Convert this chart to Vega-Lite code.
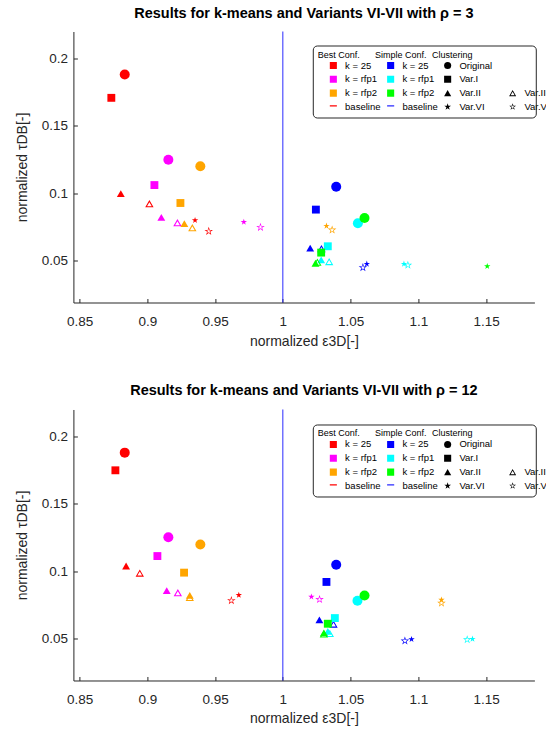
{
  "$schema": "https://vega.github.io/schema/vega-lite/v6.json",
  "autosize": {"type": "pad"},
  "padding": {"left": 15.4, "top": 5.5, "right": 7.7, "bottom": 5},
  "bounds": "flush",
  "spacing": 107,
  "datasets": {
    "baseline": [{"eps": 1, "conf": "baseline"}],
    "rho3": [
      {"setup": "Best", "k": "k = 25", "variant": "Original", "eps": 0.8833, "tau": 0.1881},
      {"setup": "Best", "k": "k = 25", "variant": "Var.I", "eps": 0.8734, "tau": 0.1708},
      {"setup": "Best", "k": "k = 25", "variant": "Var.II", "eps": 0.8804, "tau": 0.0997},
      {"setup": "Best", "k": "k = 25", "variant": "Var.III", "eps": 0.9015, "tau": 0.0923},
      {"setup": "Best", "k": "k = 25", "variant": "Var.VI", "eps": 0.9352, "tau": 0.0800},
      {"setup": "Best", "k": "k = 25", "variant": "Var.VII", "eps": 0.9453, "tau": 0.0718},
      {"setup": "Best", "k": "k = rfp1", "variant": "Original", "eps": 0.9155, "tau": 0.1249},
      {"setup": "Best", "k": "k = rfp1", "variant": "Var.I", "eps": 0.9052, "tau": 0.1061},
      {"setup": "Best", "k": "k = rfp1", "variant": "Var.II", "eps": 0.9103, "tau": 0.0822},
      {"setup": "Best", "k": "k = rfp1", "variant": "Var.III", "eps": 0.9222, "tau": 0.0782},
      {"setup": "Best", "k": "k = rfp1", "variant": "Var.VI", "eps": 0.9712, "tau": 0.0787},
      {"setup": "Best", "k": "k = rfp1", "variant": "Var.VII", "eps": 0.9835, "tau": 0.0748},
      {"setup": "Best", "k": "k = rfp2", "variant": "Original", "eps": 0.9391, "tau": 0.1200},
      {"setup": "Best", "k": "k = rfp2", "variant": "Var.I", "eps": 0.9244, "tau": 0.0928},
      {"setup": "Best", "k": "k = rfp2", "variant": "Var.II", "eps": 0.9273, "tau": 0.0775},
      {"setup": "Best", "k": "k = rfp2", "variant": "Var.III", "eps": 0.9332, "tau": 0.0745},
      {"setup": "Best", "k": "k = rfp2", "variant": "Var.VI", "eps": 1.0322, "tau": 0.0758},
      {"setup": "Best", "k": "k = rfp2", "variant": "Var.VII", "eps": 1.0364, "tau": 0.0728},
      {"setup": "Simple", "k": "k = 25", "variant": "Original", "eps": 1.0394, "tau": 0.1049},
      {"setup": "Simple", "k": "k = 25", "variant": "Var.I", "eps": 1.0244, "tau": 0.0879},
      {"setup": "Simple", "k": "k = 25", "variant": "Var.II", "eps": 1.0202, "tau": 0.0593},
      {"setup": "Simple", "k": "k = 25", "variant": "Var.III", "eps": 1.0285, "tau": 0.0590},
      {"setup": "Simple", "k": "k = 25", "variant": "Var.VI", "eps": 1.0620, "tau": 0.0476},
      {"setup": "Simple", "k": "k = 25", "variant": "Var.VII", "eps": 1.0591, "tau": 0.0449},
      {"setup": "Simple", "k": "k = rfp1", "variant": "Original", "eps": 1.0554, "tau": 0.0778},
      {"setup": "Simple", "k": "k = rfp1", "variant": "Var.I", "eps": 1.0332, "tau": 0.0607},
      {"setup": "Simple", "k": "k = rfp1", "variant": "Var.II", "eps": 1.0283, "tau": 0.0506},
      {"setup": "Simple", "k": "k = rfp1", "variant": "Var.III", "eps": 1.0342, "tau": 0.0494},
      {"setup": "Simple", "k": "k = rfp1", "variant": "Var.VI", "eps": 1.0894, "tau": 0.0476},
      {"setup": "Simple", "k": "k = rfp1", "variant": "Var.VII", "eps": 1.0923, "tau": 0.0467},
      {"setup": "Simple", "k": "k = rfp2", "variant": "Original", "eps": 1.0603, "tau": 0.0817},
      {"setup": "Simple", "k": "k = rfp2", "variant": "Var.I", "eps": 1.0283, "tau": 0.0560},
      {"setup": "Simple", "k": "k = rfp2", "variant": "Var.II", "eps": 1.0241, "tau": 0.0481},
      {"setup": "Simple", "k": "k = rfp2", "variant": "Var.III", "eps": 1.0255, "tau": 0.0490},
      {"setup": "Simple", "k": "k = rfp2", "variant": "Var.VI", "eps": 1.1509, "tau": 0.0459}
    ],
    "rho12": [
      {"setup": "Best", "k": "k = 25", "variant": "Original", "eps": 0.8833, "tau": 0.1880},
      {"setup": "Best", "k": "k = 25", "variant": "Var.I", "eps": 0.8764, "tau": 0.1749},
      {"setup": "Best", "k": "k = 25", "variant": "Var.II", "eps": 0.8843, "tau": 0.1039},
      {"setup": "Best", "k": "k = 25", "variant": "Var.III", "eps": 0.8944, "tau": 0.0987},
      {"setup": "Best", "k": "k = 25", "variant": "Var.VI", "eps": 0.9675, "tau": 0.0823},
      {"setup": "Best", "k": "k = 25", "variant": "Var.VII", "eps": 0.9620, "tau": 0.0783},
      {"setup": "Best", "k": "k = rfp1", "variant": "Original", "eps": 0.9155, "tau": 0.1253},
      {"setup": "Best", "k": "k = rfp1", "variant": "Var.I", "eps": 0.9074, "tau": 0.1113},
      {"setup": "Best", "k": "k = rfp1", "variant": "Var.II", "eps": 0.9143, "tau": 0.0857},
      {"setup": "Best", "k": "k = rfp1", "variant": "Var.III", "eps": 0.9225, "tau": 0.0841},
      {"setup": "Best", "k": "k = rfp1", "variant": "Var.VI", "eps": 1.0211, "tau": 0.0811},
      {"setup": "Best", "k": "k = rfp1", "variant": "Var.VII", "eps": 1.0271, "tau": 0.0791},
      {"setup": "Best", "k": "k = rfp2", "variant": "Original", "eps": 0.9391, "tau": 0.1199},
      {"setup": "Best", "k": "k = rfp2", "variant": "Var.I", "eps": 0.9271, "tau": 0.0990},
      {"setup": "Best", "k": "k = rfp2", "variant": "Var.II", "eps": 0.9313, "tau": 0.0822},
      {"setup": "Best", "k": "k = rfp2", "variant": "Var.III", "eps": 0.9313, "tau": 0.0806},
      {"setup": "Best", "k": "k = rfp2", "variant": "Var.VI", "eps": 1.1171, "tau": 0.0788},
      {"setup": "Best", "k": "k = rfp2", "variant": "Var.VII", "eps": 1.1171, "tau": 0.0764},
      {"setup": "Simple", "k": "k = 25", "variant": "Original", "eps": 1.0394, "tau": 0.1049},
      {"setup": "Simple", "k": "k = 25", "variant": "Var.I", "eps": 1.0322, "tau": 0.0921},
      {"setup": "Simple", "k": "k = 25", "variant": "Var.II", "eps": 1.0270, "tau": 0.0640},
      {"setup": "Simple", "k": "k = 25", "variant": "Var.III", "eps": 1.0374, "tau": 0.0609},
      {"setup": "Simple", "k": "k = 25", "variant": "Var.VI", "eps": 1.0950, "tau": 0.0496},
      {"setup": "Simple", "k": "k = 25", "variant": "Var.VII", "eps": 1.0901, "tau": 0.0484},
      {"setup": "Simple", "k": "k = rfp1", "variant": "Original", "eps": 1.0551, "tau": 0.0781},
      {"setup": "Simple", "k": "k = rfp1", "variant": "Var.I", "eps": 1.0384, "tau": 0.0653},
      {"setup": "Simple", "k": "k = rfp1", "variant": "Var.II", "eps": 1.0332, "tau": 0.0555},
      {"setup": "Simple", "k": "k = rfp1", "variant": "Var.III", "eps": 1.0347, "tau": 0.0540},
      {"setup": "Simple", "k": "k = rfp1", "variant": "Var.VI", "eps": 1.1400, "tau": 0.0498},
      {"setup": "Simple", "k": "k = rfp1", "variant": "Var.VII", "eps": 1.1361, "tau": 0.0493},
      {"setup": "Simple", "k": "k = rfp2", "variant": "Original", "eps": 1.0603, "tau": 0.0820},
      {"setup": "Simple", "k": "k = rfp2", "variant": "Var.I", "eps": 1.0332, "tau": 0.0611},
      {"setup": "Simple", "k": "k = rfp2", "variant": "Var.II", "eps": 1.0303, "tau": 0.0543},
      {"setup": "Simple", "k": "k = rfp2", "variant": "Var.III", "eps": 1.0303, "tau": 0.0535}
    ]
  },
  "vconcat": [
    {
      "width": 461,
      "height": 271,
      "title": {"text": "Results for k-means and Variants VI-VII with ρ = 3"},
      "data": {"name": "rho3"},
      "layer": [
        {
          "data": {"name": "baseline"},
          "mark": {"type": "rule", "strokeWidth": 1, "opacity": 0},
          "encoding": {
            "x": {"field": "eps", "type": "quantitative", "scale": {"domain": [0.8454, 1.1857], "nice": false, "zero": false}, "axis": {"values": [0.85, 0.9, 0.95, 1, 1.05, 1.1, 1.15], "format": "~g", "title": "normalized ε3D[-]"}},
            "color": {"field": "conf", "type": "nominal", "scale": {"domain": ["baseline"], "range": ["#ff0000"]}, "legend": {"title": null, "orient": "none", "legendX": 239.4, "legendY": 64.3, "symbolType": "stroke", "symbolStrokeWidth": 1.2, "symbolOpacity": 1, "labelExpr": "''"}}
          }
        },
        {
          "data": {"name": "baseline"},
          "mark": {"type": "rule", "strokeWidth": 1},
          "encoding": {
            "x": {"field": "eps", "type": "quantitative", "scale": {"domain": [0.8454, 1.1857], "nice": false, "zero": false}, "axis": {"values": [0.85, 0.9, 0.95, 1, 1.05, 1.1, 1.15], "format": "~g", "title": "normalized ε3D[-]"}},
            "color": {"field": "conf", "type": "nominal", "scale": {"domain": ["baseline"], "range": ["#2a2aff"]}, "legend": {"title": null, "orient": "none", "legendX": 296.7, "legendY": 64.3, "symbolType": "stroke", "symbolStrokeWidth": 1.2, "labelExpr": "''"}}
          }
        },
        {
          "transform": [{"filter": "datum.setup === 'Best'"}],
          "mark": {"type": "point", "filled": true, "opacity": 1, "strokeWidth": 0},
          "encoding": {
            "x": {"field": "eps", "type": "quantitative", "scale": {"domain": [0.8454, 1.1857], "nice": false, "zero": false}, "axis": {"values": [0.85, 0.9, 0.95, 1, 1.05, 1.1, 1.15], "format": "~g", "title": "normalized ε3D[-]"}},
            "y": {"field": "tau", "type": "quantitative", "scale": {"domain": [0.019, 0.22], "nice": false, "zero": false}, "axis": {"values": [0.05, 0.1, 0.15, 0.2], "format": "~g", "title": "normalized τDB[-]"}},
            "color": {"field": "k", "type": "nominal", "scale": {"domain": ["k = 25", "k = rfp1", "k = rfp2", "baseline"], "range": ["#ff0000", "#ff00ff", "#ffa500", "transparent"]},
              "legend": {"title": "Best Conf.\u00a0\u00a0\u00a0\u00a0\u00a0\u00a0\u00a0\u00a0\u00a0\u00a0\u00a0\u00a0\u00a0\u00a0\u00a0\u00a0\u00a0\u00a0\u00a0\u00a0\u00a0\u00a0\u00a0\u00a0\u00a0\u00a0\u00a0\u00a0\u00a0\u00a0\u00a0\u00a0\u00a0\u00a0\u00a0\u00a0\u00a0\u00a0\u00a0\u00a0\u00a0\u00a0\u00a0\u00a0\u00a0\u00a0\u00a0\u00a0\u00a0\u00a0\u00a0\u00a0\u00a0\u00a0\u00a0\u00a0\u00a0\u00a0\u00a0\u00a0\u00a0\u00a0\u00a0\u00a0\u00a0\u00a0\u00a0\u00a0\u200b", "orient": "none", "legendX": 239.4, "legendY": 14, "strokeColor": "#262626", "cornerRadius": 4, "symbolType": "square"}},
            "shape": {"field": "variant", "type": "nominal", "scale": {"domain": ["Original", "Var.I", "Var.II", "Var.VI", "_a", "_b", "Var.III", "Var.VII"], "range": ["circle", "square", "triangle-up", "M0,-1L0.225,-0.309L0.951,-0.309L0.363,0.118L0.588,0.809L0,0.382L-0.588,0.809L-0.363,0.118L-0.951,-0.309L-0.225,-0.309Z", "M0,0Z", "M0,0Z", "M0,-0.866L1,0.866L-1,0.866ZM0,-0.366L-0.567,0.616L0.567,0.616Z", "M0,-1L0.225,-0.309L0.951,-0.309L0.363,0.118L0.588,0.809L0,0.382L-0.588,0.809L-0.363,0.118L-0.951,-0.309L-0.225,-0.309ZM0,-0.55L-0.124,-0.17L-0.523,-0.17L-0.2,0.065L-0.323,0.445L0,0.21L0.323,0.445L0.2,0.065L0.523,-0.17L0.124,-0.17Z"]},
              "legend": {"title": "Clustering", "orient": "none", "legendX": 353.7, "legendY": 14, "columns": 2, "gridAlign": "none", "columnPadding": 4, "labelExpr": "indexof(datum.value, '_') === 0 ? '' : datum.label"}},
            "size": {"condition": [{"test": "datum.variant === 'Original'", "value": 100}, {"test": "datum.variant === 'Var.III'", "value": 70}, {"test": "datum.variant === 'Var.VI'", "value": 45}, {"test": "datum.variant === 'Var.VII'", "value": 80}], "value": 62}
          }
        },
        {
          "transform": [{"filter": "datum.setup === 'Simple'"}],
          "mark": {"type": "point", "filled": true, "opacity": 1, "strokeWidth": 0},
          "encoding": {
            "x": {"field": "eps", "type": "quantitative", "scale": {"domain": [0.8454, 1.1857], "nice": false, "zero": false}, "axis": {"values": [0.85, 0.9, 0.95, 1, 1.05, 1.1, 1.15], "format": "~g", "title": "normalized ε3D[-]"}},
            "y": {"field": "tau", "type": "quantitative", "scale": {"domain": [0.019, 0.22], "nice": false, "zero": false}, "axis": {"values": [0.05, 0.1, 0.15, 0.2], "format": "~g", "title": "normalized τDB[-]"}},
            "color": {"field": "k", "type": "nominal", "scale": {"domain": ["k = 25", "k = rfp1", "k = rfp2", "baseline"], "range": ["#0000ff", "#00ffff", "#00ff00", "transparent"]},
              "legend": {"title": "Simple Conf.", "orient": "none", "legendX": 296.7, "legendY": 14, "symbolType": "square"}},
            "shape": {"field": "variant", "type": "nominal", "scale": {"domain": ["Original", "Var.I", "Var.II", "Var.VI", "_a", "_b", "Var.III", "Var.VII"], "range": ["circle", "square", "triangle-up", "M0,-1L0.225,-0.309L0.951,-0.309L0.363,0.118L0.588,0.809L0,0.382L-0.588,0.809L-0.363,0.118L-0.951,-0.309L-0.225,-0.309Z", "M0,0Z", "M0,0Z", "M0,-0.866L1,0.866L-1,0.866ZM0,-0.366L-0.567,0.616L0.567,0.616Z", "M0,-1L0.225,-0.309L0.951,-0.309L0.363,0.118L0.588,0.809L0,0.382L-0.588,0.809L-0.363,0.118L-0.951,-0.309L-0.225,-0.309ZM0,-0.55L-0.124,-0.17L-0.523,-0.17L-0.2,0.065L-0.323,0.445L0,0.21L0.323,0.445L0.2,0.065L0.523,-0.17L0.124,-0.17Z"]}},
            "size": {"condition": [{"test": "datum.variant === 'Original'", "value": 100}, {"test": "datum.variant === 'Var.III'", "value": 70}, {"test": "datum.variant === 'Var.VI'", "value": 45}, {"test": "datum.variant === 'Var.VII'", "value": 80}], "value": 62}
          }
        }
      ],
      "resolve": {"scale": {"color": "independent"}, "legend": {"color": "independent"}}
    },
    {
      "width": 461,
      "height": 271,
      "title": {"text": "Results for k-means and Variants VI-VII with ρ = 12"},
      "data": {"name": "rho12"},
      "layer": [
        {
          "data": {"name": "baseline"},
          "mark": {"type": "rule", "strokeWidth": 1, "opacity": 0},
          "encoding": {
            "x": {"field": "eps", "type": "quantitative", "scale": {"domain": [0.8454, 1.1857], "nice": false, "zero": false}, "axis": {"values": [0.85, 0.9, 0.95, 1, 1.05, 1.1, 1.15], "format": "~g", "title": "normalized ε3D[-]"}},
            "color": {"field": "conf", "type": "nominal", "scale": {"domain": ["baseline"], "range": ["#ff0000"]}, "legend": {"title": null, "orient": "none", "legendX": 239.4, "legendY": 65.3, "symbolType": "stroke", "symbolStrokeWidth": 1.2, "symbolOpacity": 1, "labelExpr": "''"}}
          }
        },
        {
          "data": {"name": "baseline"},
          "mark": {"type": "rule", "strokeWidth": 1},
          "encoding": {
            "x": {"field": "eps", "type": "quantitative", "scale": {"domain": [0.8454, 1.1857], "nice": false, "zero": false}, "axis": {"values": [0.85, 0.9, 0.95, 1, 1.05, 1.1, 1.15], "format": "~g", "title": "normalized ε3D[-]"}},
            "color": {"field": "conf", "type": "nominal", "scale": {"domain": ["baseline"], "range": ["#2a2aff"]}, "legend": {"title": null, "orient": "none", "legendX": 296.7, "legendY": 65.3, "symbolType": "stroke", "symbolStrokeWidth": 1.2, "labelExpr": "''"}}
          }
        },
        {
          "transform": [{"filter": "datum.setup === 'Best'"}],
          "mark": {"type": "point", "filled": true, "opacity": 1, "strokeWidth": 0},
          "encoding": {
            "x": {"field": "eps", "type": "quantitative", "scale": {"domain": [0.8454, 1.1857], "nice": false, "zero": false}, "axis": {"values": [0.85, 0.9, 0.95, 1, 1.05, 1.1, 1.15], "format": "~g", "title": "normalized ε3D[-]"}},
            "y": {"field": "tau", "type": "quantitative", "scale": {"domain": [0.019, 0.22], "nice": false, "zero": false}, "axis": {"values": [0.05, 0.1, 0.15, 0.2], "format": "~g", "title": "normalized τDB[-]"}},
            "color": {"field": "k", "type": "nominal", "scale": {"domain": ["k = 25", "k = rfp1", "k = rfp2", "baseline"], "range": ["#ff0000", "#ff00ff", "#ffa500", "transparent"]},
              "legend": {"title": "Best Conf.\u00a0\u00a0\u00a0\u00a0\u00a0\u00a0\u00a0\u00a0\u00a0\u00a0\u00a0\u00a0\u00a0\u00a0\u00a0\u00a0\u00a0\u00a0\u00a0\u00a0\u00a0\u00a0\u00a0\u00a0\u00a0\u00a0\u00a0\u00a0\u00a0\u00a0\u00a0\u00a0\u00a0\u00a0\u00a0\u00a0\u00a0\u00a0\u00a0\u00a0\u00a0\u00a0\u00a0\u00a0\u00a0\u00a0\u00a0\u00a0\u00a0\u00a0\u00a0\u00a0\u00a0\u00a0\u00a0\u00a0\u00a0\u00a0\u00a0\u00a0\u00a0\u00a0\u00a0\u00a0\u00a0\u00a0\u00a0\u00a0\u200b", "orient": "none", "legendX": 239.4, "legendY": 15, "strokeColor": "#262626", "cornerRadius": 4, "symbolType": "square"}},
            "shape": {"field": "variant", "type": "nominal", "scale": {"domain": ["Original", "Var.I", "Var.II", "Var.VI", "_a", "_b", "Var.III", "Var.VII"], "range": ["circle", "square", "triangle-up", "M0,-1L0.225,-0.309L0.951,-0.309L0.363,0.118L0.588,0.809L0,0.382L-0.588,0.809L-0.363,0.118L-0.951,-0.309L-0.225,-0.309Z", "M0,0Z", "M0,0Z", "M0,-0.866L1,0.866L-1,0.866ZM0,-0.366L-0.567,0.616L0.567,0.616Z", "M0,-1L0.225,-0.309L0.951,-0.309L0.363,0.118L0.588,0.809L0,0.382L-0.588,0.809L-0.363,0.118L-0.951,-0.309L-0.225,-0.309ZM0,-0.55L-0.124,-0.17L-0.523,-0.17L-0.2,0.065L-0.323,0.445L0,0.21L0.323,0.445L0.2,0.065L0.523,-0.17L0.124,-0.17Z"]},
              "legend": {"title": "Clustering", "orient": "none", "legendX": 353.7, "legendY": 15, "columns": 2, "gridAlign": "none", "columnPadding": 4, "labelExpr": "indexof(datum.value, '_') === 0 ? '' : datum.label"}},
            "size": {"condition": [{"test": "datum.variant === 'Original'", "value": 100}, {"test": "datum.variant === 'Var.III'", "value": 70}, {"test": "datum.variant === 'Var.VI'", "value": 45}, {"test": "datum.variant === 'Var.VII'", "value": 80}], "value": 62}
          }
        },
        {
          "transform": [{"filter": "datum.setup === 'Simple'"}],
          "mark": {"type": "point", "filled": true, "opacity": 1, "strokeWidth": 0},
          "encoding": {
            "x": {"field": "eps", "type": "quantitative", "scale": {"domain": [0.8454, 1.1857], "nice": false, "zero": false}, "axis": {"values": [0.85, 0.9, 0.95, 1, 1.05, 1.1, 1.15], "format": "~g", "title": "normalized ε3D[-]"}},
            "y": {"field": "tau", "type": "quantitative", "scale": {"domain": [0.019, 0.22], "nice": false, "zero": false}, "axis": {"values": [0.05, 0.1, 0.15, 0.2], "format": "~g", "title": "normalized τDB[-]"}},
            "color": {"field": "k", "type": "nominal", "scale": {"domain": ["k = 25", "k = rfp1", "k = rfp2", "baseline"], "range": ["#0000ff", "#00ffff", "#00ff00", "transparent"]},
              "legend": {"title": "Simple Conf.", "orient": "none", "legendX": 296.7, "legendY": 15, "symbolType": "square"}},
            "shape": {"field": "variant", "type": "nominal", "scale": {"domain": ["Original", "Var.I", "Var.II", "Var.VI", "_a", "_b", "Var.III", "Var.VII"], "range": ["circle", "square", "triangle-up", "M0,-1L0.225,-0.309L0.951,-0.309L0.363,0.118L0.588,0.809L0,0.382L-0.588,0.809L-0.363,0.118L-0.951,-0.309L-0.225,-0.309Z", "M0,0Z", "M0,0Z", "M0,-0.866L1,0.866L-1,0.866ZM0,-0.366L-0.567,0.616L0.567,0.616Z", "M0,-1L0.225,-0.309L0.951,-0.309L0.363,0.118L0.588,0.809L0,0.382L-0.588,0.809L-0.363,0.118L-0.951,-0.309L-0.225,-0.309ZM0,-0.55L-0.124,-0.17L-0.523,-0.17L-0.2,0.065L-0.323,0.445L0,0.21L0.323,0.445L0.2,0.065L0.523,-0.17L0.124,-0.17Z"]}},
            "size": {"condition": [{"test": "datum.variant === 'Original'", "value": 100}, {"test": "datum.variant === 'Var.III'", "value": 70}, {"test": "datum.variant === 'Var.VI'", "value": 45}, {"test": "datum.variant === 'Var.VII'", "value": 80}], "value": 62}
          }
        }
      ],
      "resolve": {"scale": {"color": "independent"}, "legend": {"color": "independent"}}
    }
  ],
  "resolve": {
    "scale": {"x": "independent", "y": "independent", "color": "independent", "shape": "independent"},
    "legend": {"color": "independent", "shape": "independent"}
  },
  "config": {
    "font": "Liberation Sans",
    "view": {"stroke": null},
    "title": {"font": "Liberation Sans", "fontSize": 14.5, "fontWeight": "bold", "color": "#000000", "anchor": "middle", "frame": "group", "baseline": "alphabetic", "offset": 10},
    "axis": {"grid": false, "domainColor": "#262626", "tickColor": "#262626", "labelColor": "#262626", "titleColor": "#262626", "labelFont": "Liberation Sans", "titleFont": "Liberation Sans", "labelFontSize": 13.5, "titleFontSize": 14, "titleFontWeight": "normal", "tickSize": -4, "domainWidth": 1, "tickWidth": 1, "labelFlush": false, "labelOverlap": false},
    "axisX": {"labelPadding": 16, "titlePadding": 6, "labelAngle": 0},
    "axisY": {"labelPadding": 10, "titlePadding": 11.5},
    "legend": {"labelFont": "Liberation Sans", "titleFont": "Liberation Sans", "labelFontSize": 9.5, "titleFontSize": 9, "titleFontWeight": "normal", "labelColor": "#000000", "titleColor": "#000000", "padding": 5, "symbolSize": 50, "symbolOffset": 10.8, "labelOffset": 7, "clipHeight": 10, "rowPadding": 3.8, "titlePadding": 1, "titleLimit": 500, "labelLimit": 200, "symbolBaseFillColor": "#000000", "symbolStrokeWidth": 0}
  }
}
